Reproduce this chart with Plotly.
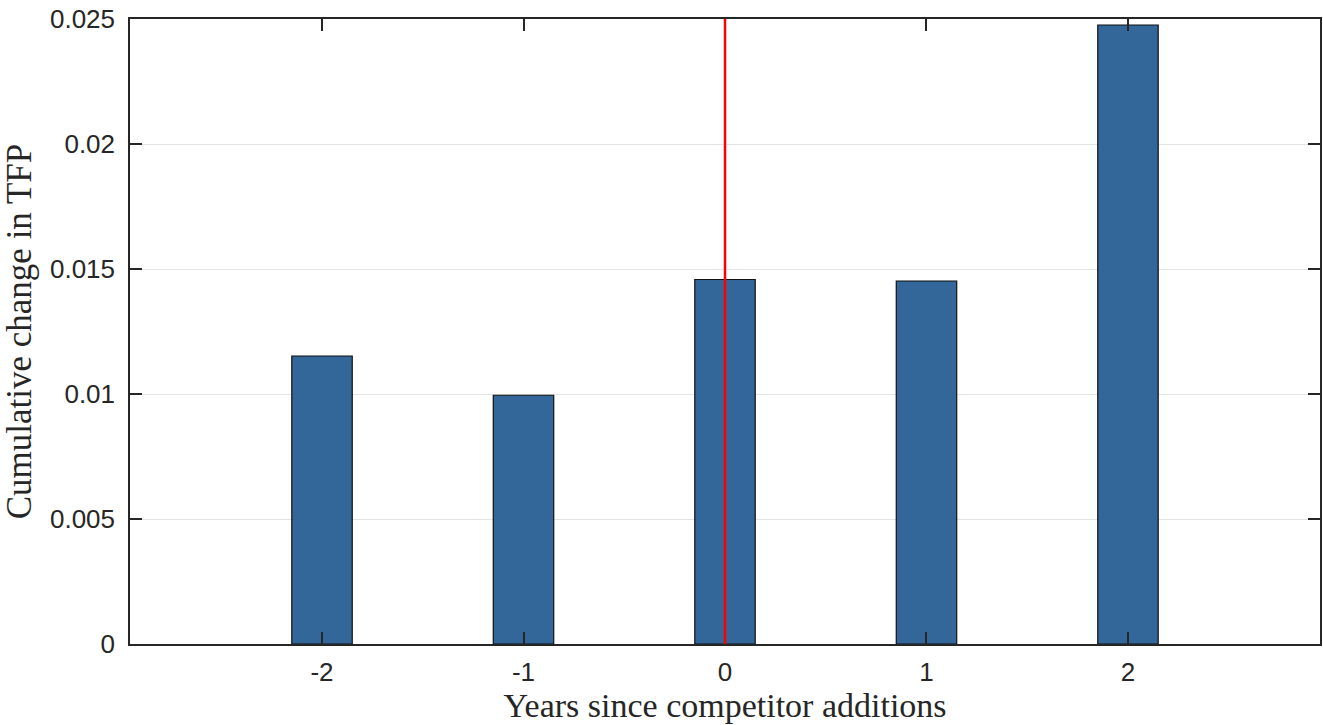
import plotly.graph_objects as go

years = [-2, -1, 0, 1, 2]
tfp_change = [0.01152, 0.00995, 0.01458, 0.01452, 0.02476]
y_ticks = [0, 0.005, 0.01, 0.015, 0.02, 0.025]
y_tick_labels = ["0", "0.005", "0.01", "0.015", "0.02", "0.025"]

axis_color = "#262626"
serif = "Liberation Serif, Times New Roman, serif"

fig = go.Figure()
fig.add_trace(go.Bar(
    x=years, y=tfp_change, width=0.3,
    marker=dict(color="#336699", line=dict(color="#111111", width=1.2)),
    showlegend=False,
))
fig.add_shape(type="line", x0=0, x1=0, y0=0, y1=1, xref="x", yref="paper",
              line=dict(color="#ff0000", width=2.5), layer="above")

fig.update_layout(
    width=1323, height=725,
    margin=dict(l=130, r=3, t=19, b=81),
    paper_bgcolor="white", plot_bgcolor="white",
    font=dict(family="Liberation Sans, Arial", size=26, color=axis_color),
)
fig.update_xaxes(
    range=[-2.953, 2.953], tickvals=years, ticktext=[str(v) for v in years],
    showgrid=False, zeroline=False, automargin=False,
    showline=True, linecolor=axis_color, linewidth=1.5, mirror="ticks",
    ticks="inside", ticklen=12, tickcolor=axis_color, tickwidth=1.5,
    tickfont=dict(size=26, color=axis_color),
    ticklabelstandoff=4,
    title=dict(text="Years since competitor additions",
               font=dict(family=serif, size=34, color=axis_color),
               standoff=6),
)
fig.update_yaxes(
    range=[0, 0.025], tickvals=y_ticks, ticktext=y_tick_labels,
    showgrid=True, gridcolor="#e3e3e3", gridwidth=1.2, zeroline=False, automargin=False,
    showline=True, linecolor=axis_color, linewidth=1.5, mirror="ticks",
    ticks="inside", ticklen=12, tickcolor=axis_color, tickwidth=1.5,
    tickfont=dict(size=26, color=axis_color),
    ticklabelstandoff=8,
    title=dict(text="Cumulative change in TFP",
               font=dict(family=serif, size=35, color=axis_color),
               standoff=10),
)

fig.write_html("out.html")
